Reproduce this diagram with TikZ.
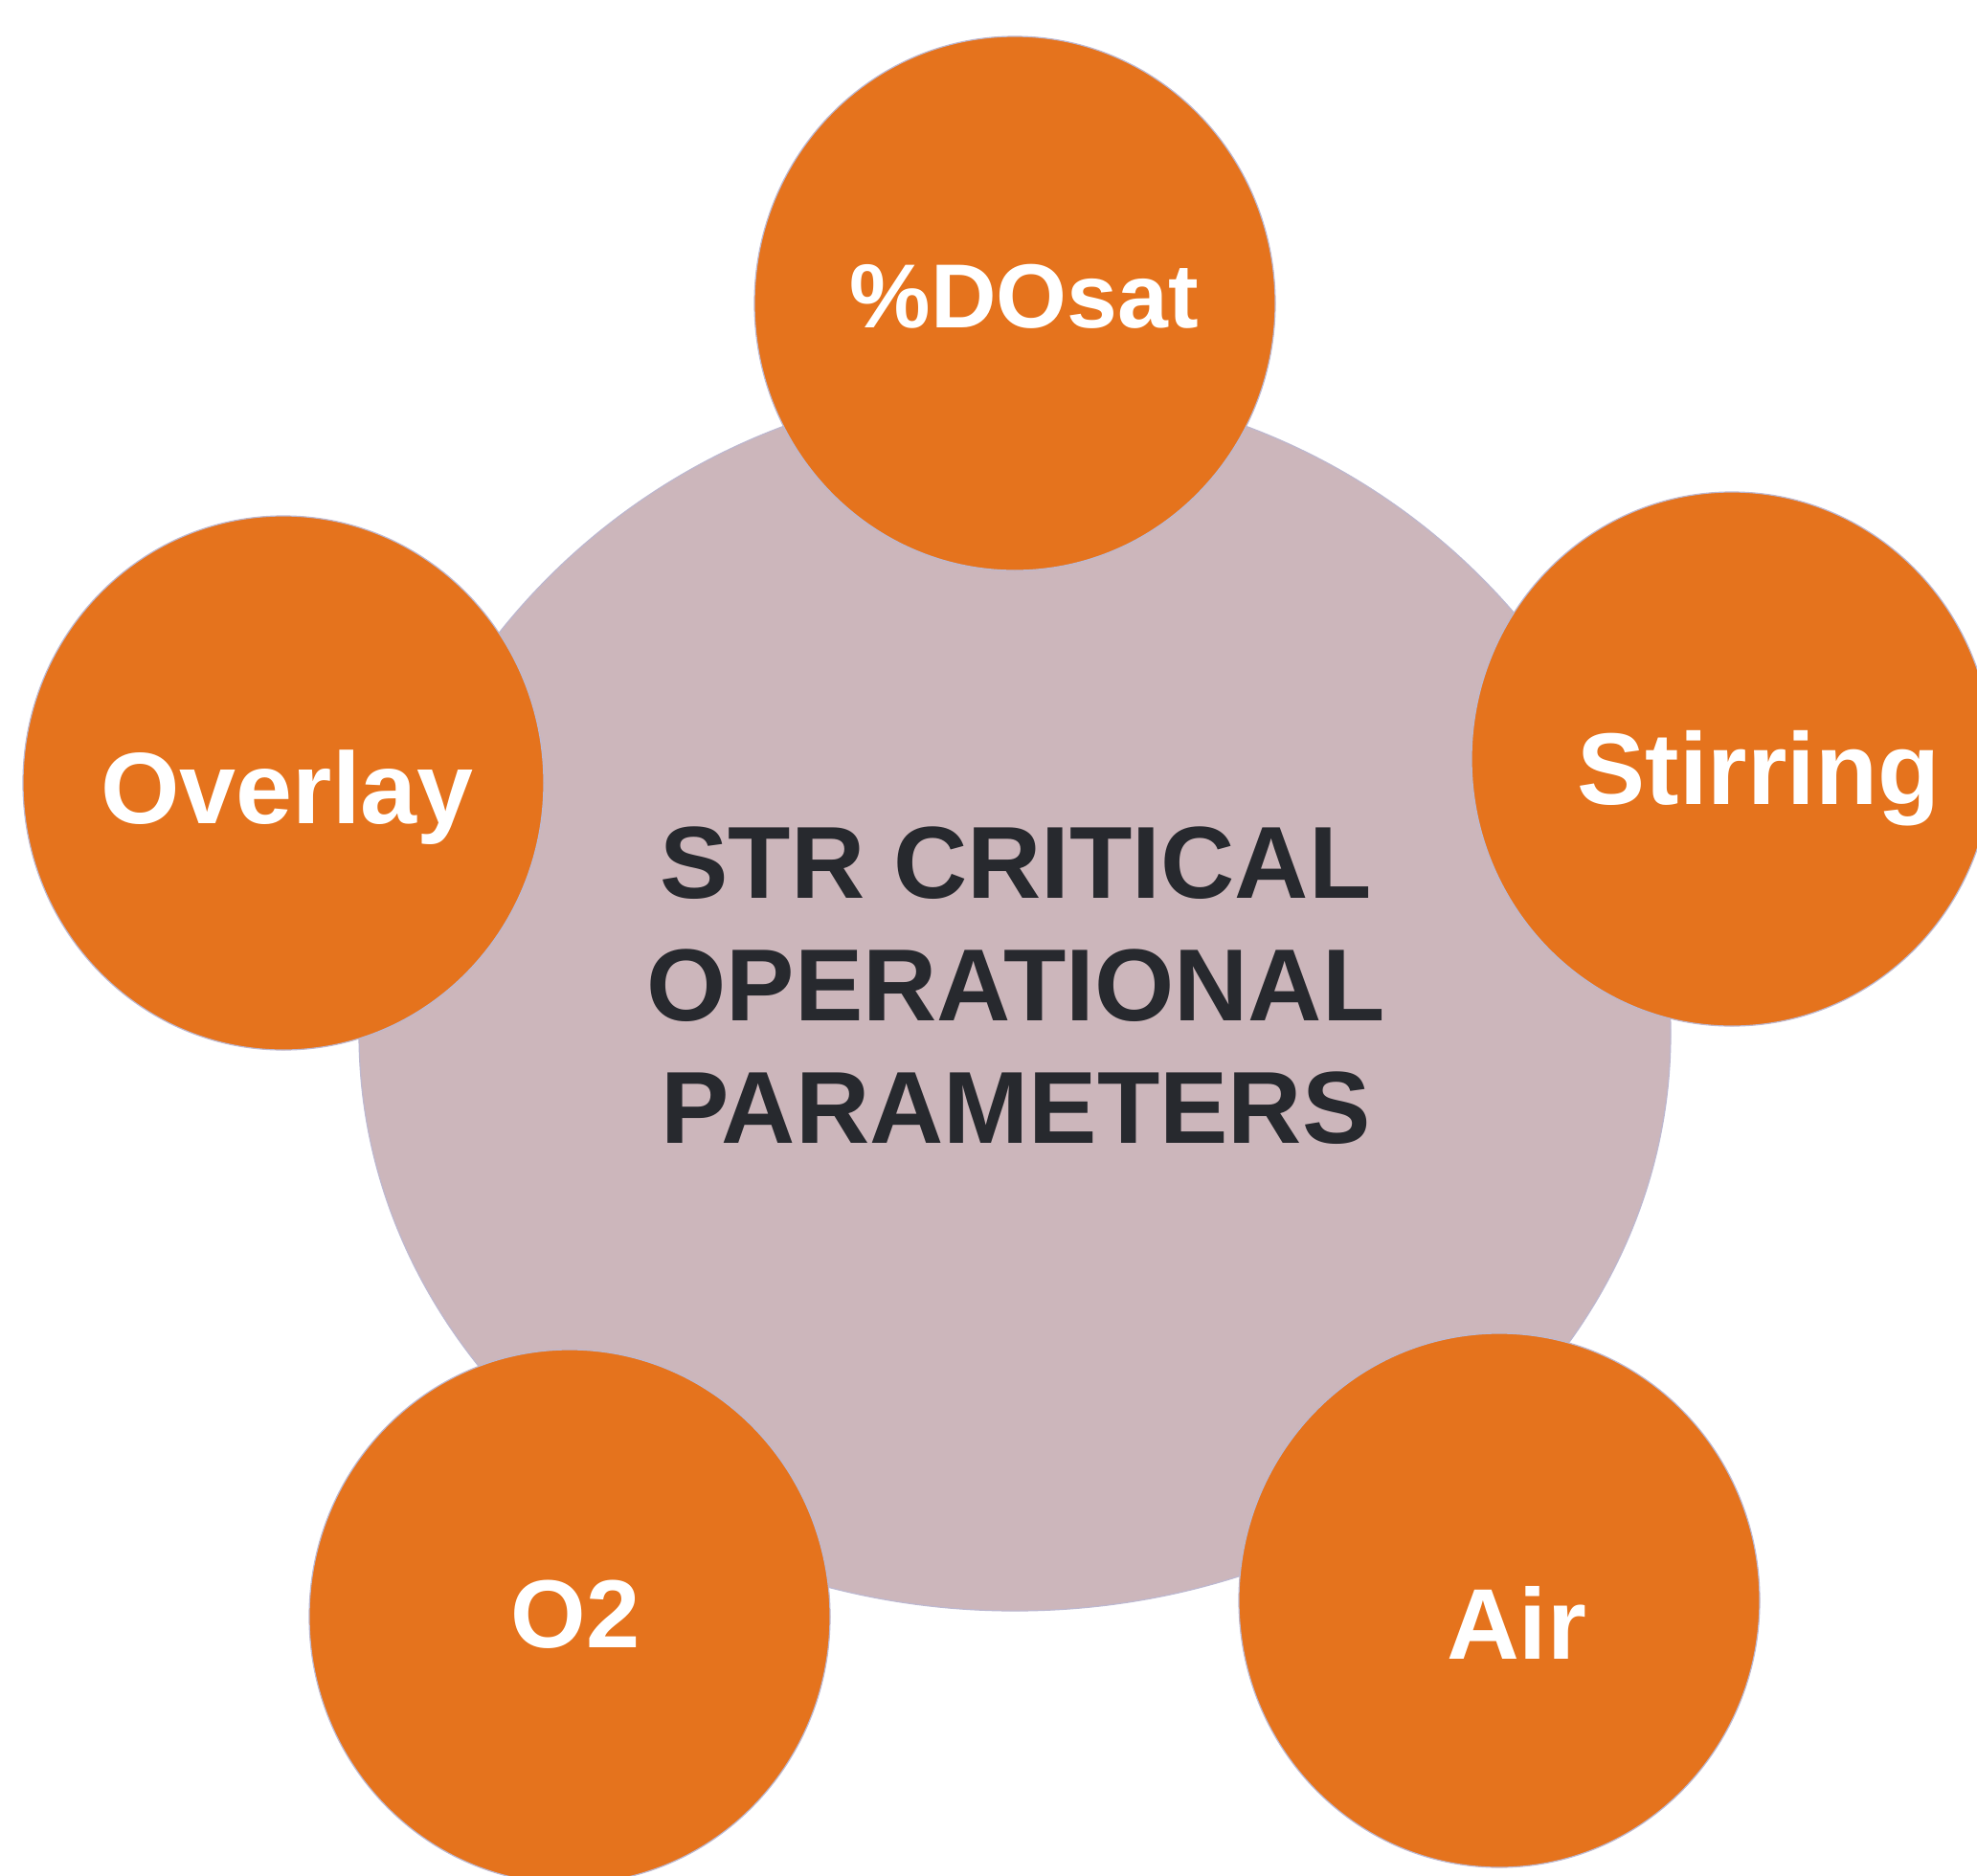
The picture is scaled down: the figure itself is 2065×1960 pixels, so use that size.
\documentclass[tikz,border=0pt]{standalone}
\usepackage{fontspec}
\setmainfont{Liberation Sans}
\usetikzlibrary{shapes.geometric}
\definecolor{hub}{HTML}{CCB6BB}
\definecolor{petal}{HTML}{E5731D}
\definecolor{ink}{HTML}{27292E}
\definecolor{rim}{HTML}{BDB8D0}
\tikzset{
  petaldisc/.style={ellipse, fill=petal, draw=rim, line width=1.2pt, inner sep=0pt, minimum width=544pt, minimum height=558pt},
  petallabel/.style={anchor=base, inner sep=0pt, text=white, font=\bfseries\fontsize{#1}{#1}\selectfont},
  hublabel/.style={anchor=base, inner sep=0pt, align=center, text=ink, font=\bfseries\fontsize{107}{128}\selectfont}
}
\begin{document}
\begin{tikzpicture}[x=1pt, y=-1pt]
  \useasboundingbox (0,0) rectangle (2065,1960);
  \clip (0,0) rectangle (2065,1960);
  \fill[white] (0,0) rectangle (2065,1960);

  % central disc: rounder on top, slightly flattened below
  \coordinate (hubc) at (1060,1080);
  \filldraw[fill=hub, draw=rim, line width=1.2pt]
    ([xshift=-685pt]hubc) arc[start angle=180, end angle=0, x radius=685pt, y radius=678pt]
    arc[start angle=0, end angle=-180, x radius=685pt, y radius=603pt] -- cycle;
  \node[hublabel] (title) at (1061,1194) {STR CRITICAL\\OPERATIONAL\\PARAMETERS};

  % surrounding parameter discs
  \node[petaldisc] (dosat) at (1060,317) {};
  \node[petaldisc] (stir) at (1809,793) {};
  \node[petaldisc] (overlay) at (296,818) {};
  \node[petaldisc] (otwo) at (595,1689) {};
  \node[petaldisc] (air) at (1566,1672) {};

  \node[petallabel=95] (dosat-l) at (1070,342) {\%DOsat};
  \node[petallabel=106.5] (stir-l) at (1837,840) {Stirring};
  \node[petallabel=106] (overlay-l) at (300,860) {Overlay};
  \node[petallabel=101] (otwo-l) at (601,1721) {O2};
  \node[petallabel=105] (air-l) at (1584,1733) {Air};
\end{tikzpicture}
\end{document}
